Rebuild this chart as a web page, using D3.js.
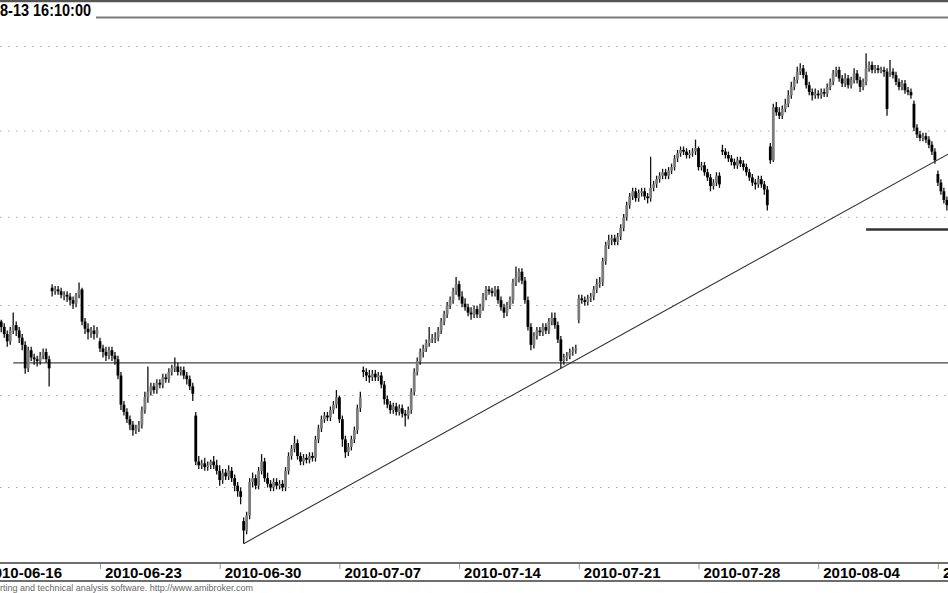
<!DOCTYPE html>
<html>
<head>
<meta charset="utf-8">
<script src="https://cdn.jsdelivr.net/npm/d3@7"></script>
<style>
	body { margin: 0; background: #fff; }
	svg { display: block; }
	text { font-family: "Liberation Sans", Arial, sans-serif; }
</style>
</head>
<body>
<div id="chart"></div>
<script>

// trading days, one row per day (hourly bars)
var days = ['2010-06-16','2010-06-17','2010-06-18','2010-06-21','2010-06-22','2010-06-23','2010-06-24','2010-06-25',
	'2010-06-28','2010-06-29','2010-06-30','2010-07-01','2010-07-02','2010-07-05','2010-07-06','2010-07-07',
	'2010-07-08','2010-07-09','2010-07-12','2010-07-13','2010-07-14','2010-07-15','2010-07-16','2010-07-19',
	'2010-07-20','2010-07-21','2010-07-22','2010-07-23','2010-07-26','2010-07-27','2010-07-28','2010-07-29',
	'2010-07-30','2010-08-02','2010-08-03','2010-08-04','2010-08-05','2010-08-06','2010-08-09','2010-08-10',
	'2010-08-11'];

var dayOpens = [2331, 2338, 2315, 2360, 2351, 2330, 2295, 2299, 2313, 2289, 2259, 2232, 2255, 2267, 2266, 2299,
	2314, 2298, 2292, 2332, 2362, 2349, 2346, 2338, 2343, 2342, 2363, 2400, 2411, 2429, 2440, 2439,
	2429, 2441, 2476, 2472, 2481, 2479, 2485, 2466, 2425];

var closes = [
	[2334, 2336, 2338, 2339, 2341, 2342, 2341, 2338],
	[2334, 2330, 2336, 2339, 2336, 2332, 2328, 2315],
	[2325, 2321, 2320, 2319, 2322, 2324, 2320, 2315],
	[2358, 2359, 2358, 2356, 2356, 2355, 2353, 2351],
	[2356, 2359, 2341, 2337, 2335, 2336, 2334, 2336],
	[2326, 2324, 2322, 2325, 2322, 2320, 2311, 2295],
	[2291, 2287, 2284, 2281, 2282, 2284, 2292, 2299],
	[2302, 2305, 2303, 2307, 2306, 2310, 2309, 2313],
	[2315, 2316, 2313, 2314, 2311, 2309, 2305, 2301],
	[2264, 2262, 2263, 2261, 2262, 2264, 2262, 2259],
	[2254, 2258, 2256, 2259, 2255, 2251, 2248, 2245],
	[2227, 2235, 2253, 2255, 2251, 2259, 2264, 2255],
	[2252, 2250, 2253, 2251, 2252, 2250, 2259, 2267],
	[2271, 2274, 2267, 2264, 2266, 2265, 2267, 2266],
	[2276, 2282, 2287, 2289, 2288, 2292, 2295, 2299],
	[2287, 2276, 2269, 2272, 2276, 2281, 2293, 2299],
	[2313, 2311, 2310, 2312, 2310, 2311, 2306, 2298],
	[2295, 2292, 2294, 2291, 2293, 2290, 2289, 2292],
	[2302, 2313, 2319, 2324, 2326, 2329, 2331, 2332],
	[2332, 2336, 2341, 2345, 2350, 2353, 2358, 2362],
	[2355, 2351, 2349, 2346, 2345, 2348, 2345, 2349],
	[2355, 2359, 2358, 2357, 2359, 2353, 2349, 2346],
	[2350, 2353, 2363, 2366, 2369, 2364, 2353, 2338],
	[2328, 2333, 2336, 2335, 2338, 2336, 2341, 2343],
	[2339, 2331, 2319, 2321, 2322, 2324, 2325, 2326],
	[2354, 2353, 2352, 2354, 2355, 2359, 2362, 2363],
	[2375, 2384, 2387, 2388, 2386, 2389, 2394, 2400],
	[2407, 2412, 2415, 2411, 2414, 2415, 2412, 2411],
	[2417, 2419, 2422, 2424, 2426, 2424, 2427, 2429],
	[2434, 2437, 2439, 2438, 2436, 2437, 2438, 2440],
	[2429, 2430, 2426, 2423, 2418, 2420, 2424, 2419],
	[2438, 2436, 2434, 2432, 2430, 2433, 2431, 2429],
	[2426, 2423, 2420, 2419, 2422, 2419, 2416, 2407],
	[2433, 2464, 2461, 2459, 2463, 2466, 2471, 2476],
	[2480, 2485, 2487, 2483, 2477, 2473, 2471, 2472],
	[2471, 2473, 2472, 2476, 2479, 2484, 2486, 2481],
	[2478, 2481, 2477, 2480, 2484, 2480, 2476, 2479],
	[2487, 2489, 2486, 2487, 2486, 2486, 2485, 2463],
	[2485, 2483, 2479, 2476, 2478, 2474, 2473, 2471],
	[2452, 2448, 2446, 2447, 2445, 2442, 2438, 2433],
	[2420, 2415, 2410, 2407]
];

var highs = [
	[2336, 2338, 2340, 2341, 2343, 2345, 2344, 2342],
	[2340, 2336, 2338, 2346, 2341, 2338, 2334, 2330],
	[2327, 2327, 2323, 2322, 2324, 2326, 2326, 2322],
	[2362, 2361, 2361, 2360, 2358, 2358, 2357, 2355],
	[2357, 2363, 2360, 2343, 2340, 2338, 2339, 2338],
	[2332, 2328, 2327, 2327, 2327, 2324, 2322, 2313],
	[2297, 2293, 2289, 2286, 2284, 2286, 2294, 2302],
	[2316, 2307, 2307, 2309, 2309, 2312, 2312, 2315],
	[2317, 2321, 2318, 2316, 2316, 2313, 2311, 2307],
	[2291, 2267, 2265, 2266, 2264, 2265, 2267, 2265],
	[2262, 2260, 2260, 2262, 2261, 2257, 2253, 2250],
	[2234, 2237, 2255, 2258, 2257, 2261, 2268, 2266],
	[2258, 2254, 2255, 2255, 2254, 2254, 2261, 2269],
	[2273, 2278, 2276, 2269, 2268, 2268, 2269, 2269],
	[2278, 2284, 2289, 2291, 2291, 2294, 2297, 2303],
	[2300, 2289, 2278, 2274, 2278, 2283, 2295, 2302],
	[2316, 2315, 2314, 2314, 2314, 2313, 2313, 2308],
	[2300, 2297, 2296, 2296, 2295, 2295, 2292, 2294],
	[2304, 2315, 2321, 2326, 2328, 2331, 2338, 2334],
	[2335, 2338, 2343, 2347, 2352, 2355, 2360, 2366],
	[2364, 2358, 2354, 2351, 2349, 2350, 2350, 2351],
	[2357, 2361, 2361, 2360, 2361, 2361, 2355, 2351],
	[2352, 2355, 2365, 2372, 2371, 2371, 2366, 2355],
	[2340, 2335, 2338, 2338, 2340, 2340, 2343, 2346],
	[2346, 2341, 2333, 2323, 2324, 2326, 2327, 2328],
	[2356, 2356, 2355, 2356, 2357, 2361, 2365, 2366],
	[2377, 2386, 2390, 2390, 2390, 2391, 2396, 2402],
	[2409, 2414, 2417, 2417, 2416, 2417, 2417, 2414],
	[2435, 2421, 2424, 2426, 2428, 2428, 2429, 2431],
	[2436, 2439, 2441, 2441, 2440, 2439, 2440, 2445],
	[2441, 2432, 2432, 2428, 2425, 2422, 2426, 2426],
	[2442, 2440, 2438, 2436, 2434, 2435, 2435, 2433],
	[2431, 2428, 2425, 2422, 2424, 2424, 2421, 2418],
	[2443, 2466, 2467, 2464, 2465, 2469, 2474, 2479],
	[2482, 2488, 2490, 2489, 2485, 2479, 2475, 2475],
	[2474, 2475, 2475, 2478, 2481, 2486, 2488, 2488],
	[2483, 2484, 2483, 2482, 2487, 2486, 2482, 2481],
	[2496, 2491, 2491, 2489, 2489, 2488, 2488, 2487],
	[2492, 2487, 2485, 2481, 2480, 2480, 2476, 2475],
	[2468, 2454, 2450, 2449, 2449, 2447, 2444, 2440],
	[2427, 2422, 2417, 2412]
];

var lows = [
	[2329, 2332, 2334, 2336, 2337, 2339, 2339, 2335],
	[2332, 2327, 2328, 2334, 2333, 2329, 2325, 2312],
	[2313, 2319, 2317, 2316, 2317, 2320, 2318, 2305],
	[2355, 2356, 2356, 2354, 2353, 2352, 2350, 2348],
	[2349, 2354, 2339, 2334, 2331, 2332, 2331, 2332],
	[2324, 2321, 2319, 2320, 2319, 2317, 2309, 2292],
	[2289, 2285, 2281, 2278, 2279, 2280, 2282, 2290],
	[2296, 2300, 2301, 2301, 2304, 2304, 2307, 2307],
	[2311, 2313, 2311, 2311, 2309, 2306, 2303, 2297],
	[2262, 2260, 2260, 2259, 2259, 2260, 2260, 2257],
	[2251, 2252, 2254, 2254, 2253, 2248, 2245, 2241],
	[2220, 2225, 2233, 2250, 2249, 2249, 2257, 2253],
	[2250, 2248, 2248, 2249, 2249, 2248, 2248, 2257],
	[2265, 2269, 2265, 2262, 2262, 2263, 2263, 2264],
	[2264, 2274, 2280, 2285, 2286, 2286, 2290, 2293],
	[2285, 2272, 2266, 2267, 2270, 2274, 2279, 2291],
	[2310, 2308, 2307, 2308, 2308, 2308, 2304, 2295],
	[2293, 2290, 2290, 2289, 2289, 2288, 2283, 2287],
	[2290, 2300, 2311, 2317, 2321, 2324, 2327, 2329],
	[2329, 2330, 2334, 2339, 2343, 2348, 2351, 2356],
	[2353, 2349, 2347, 2344, 2342, 2343, 2343, 2343],
	[2347, 2353, 2356, 2355, 2355, 2351, 2347, 2343],
	[2344, 2348, 2351, 2361, 2363, 2362, 2351, 2336],
	[2325, 2326, 2331, 2333, 2333, 2334, 2334, 2339],
	[2337, 2329, 2315, 2317, 2319, 2320, 2322, 2323],
	[2340, 2351, 2350, 2350, 2352, 2353, 2357, 2360],
	[2361, 2373, 2382, 2384, 2384, 2384, 2387, 2392],
	[2398, 2405, 2410, 2409, 2409, 2412, 2410, 2408],
	[2409, 2415, 2417, 2420, 2422, 2422, 2422, 2425],
	[2427, 2432, 2435, 2436, 2434, 2434, 2435, 2436],
	[2427, 2427, 2424, 2421, 2415, 2416, 2418, 2417],
	[2436, 2434, 2432, 2430, 2428, 2428, 2429, 2427],
	[2424, 2421, 2418, 2416, 2417, 2417, 2413, 2404],
	[2431, 2432, 2459, 2457, 2457, 2461, 2464, 2469],
	[2474, 2478, 2483, 2481, 2475, 2471, 2468, 2469],
	[2469, 2469, 2470, 2470, 2474, 2477, 2482, 2479],
	[2476, 2476, 2475, 2475, 2478, 2478, 2473, 2474],
	[2477, 2485, 2484, 2484, 2484, 2484, 2482, 2459],
	[2482, 2481, 2477, 2474, 2474, 2472, 2471, 2469],
	[2450, 2446, 2444, 2444, 2443, 2440, 2436, 2431],
	[2418, 2413, 2408, 2404]
];

var gridLevels = [2250, 2300, 2350, 2400, 2450, 2500];
var supportLevel = { from: 11, value: 2318 };
var resistanceStub = { from: 296, value: 2393 };
var trendPoints = [[88, 2220], [194, 2315]];

var tickDates = ['2010-06-16','2010-06-23','2010-06-30','2010-07-07','2010-07-14','2010-07-21','2010-07-28','2010-08-04','2010-08-11'];

var titleText = '8-13 16:10:00';
var footerText = 'rting and technical analysis software. http://www.amibroker.com';

(function () {
	var width = 948, height = 593;
	var perDay = closes[0].length;
	var nBars = days.length * perDay;

	var x = d3.scaleLinear().domain([0, nBars]).range([-19.7, -19.7 + nBars * 2.9925]);
	var y = d3.scaleLog().domain([2250, 2500]).range([487.5, 46.5]);

	var svg = d3.select('#chart').append('svg')
		.attr('width', width)
		.attr('height', height);

	// candles: open of each bar is the previous close
	var candles = [];
	closes.forEach(function (day, d) {
		var prev = dayOpens[d];
		day.forEach(function (c, j) {
			candles.push({ i: d * perDay + j, o: prev, c: c, h: highs[d][j], l: lows[d][j] });
			prev = c;
		});
	});

	// header lines and title
	svg.append('line').attr('x1', 0).attr('x2', width).attr('y1', 1).attr('y2', 1)
		.attr('stroke', '#555').attr('stroke-width', 2.5);
	svg.append('line').attr('x1', 96).attr('x2', width).attr('y1', 17.5).attr('y2', 17.5)
		.attr('stroke', '#7a7a7a').attr('stroke-width', 1.8);
	svg.append('text').attr('x', 0).attr('y', 16)
		.attr('font-size', 16).attr('font-weight', 'bold')
		.attr('textLength', 91).attr('lengthAdjust', 'spacingAndGlyphs')
		.text(titleText);

	// dotted grid
	svg.append('g').selectAll('line').data(gridLevels).enter().append('line')
		.attr('x1', 0).attr('x2', width)
		.attr('y1', function (d) { return y(d); })
		.attr('y2', function (d) { return y(d); })
		.attr('stroke', '#a8a8a8').attr('stroke-width', 1)
		.attr('stroke-dasharray', '1.5,6.5');

	// horizontal level
	svg.append('line')
		.attr('x1', x(supportLevel.from)).attr('x2', width)
		.attr('y1', y(supportLevel.value)).attr('y2', y(supportLevel.value))
		.attr('stroke', '#444').attr('stroke-width', 1.2);

	// candles
	var g = svg.append('g');
	g.selectAll('line.wick').data(candles).enter().append('line')
		.attr('class', 'wick')
		.attr('x1', function (d) { return x(d.i); })
		.attr('x2', function (d) { return x(d.i); })
		.attr('y1', function (d) { return y(d.h); })
		.attr('y2', function (d) { return y(d.l); })
		.attr('stroke', '#111').attr('stroke-width', 1.3);

	g.selectAll('rect').data(candles).enter().append('rect')
		.attr('x', function (d) { return x(d.i) - 1.4; })
		.attr('width', 2.8)
		.attr('y', function (d) { return y(Math.max(d.o, d.c)); })
		.attr('height', function (d) { return Math.max(1.5, Math.abs(y(d.o) - y(d.c))); })
		.attr('fill', function (d) { return d.c >= d.o ? '#7c7c7c' : '#000'; });

	// trendline, extended to the right edge
	var p0 = [x(trendPoints[0][0]), y(trendPoints[0][1])];
	var p1 = [x(trendPoints[1][0]), y(trendPoints[1][1])];
	var slope = (p1[1] - p0[1]) / (p1[0] - p0[0]);
	svg.append('line')
		.attr('x1', p0[0]).attr('y1', p0[1])
		.attr('x2', width).attr('y2', p0[1] + slope * (width - p0[0]))
		.attr('stroke', '#333').attr('stroke-width', 1.1);

	// short thick level on the right
	svg.append('line')
		.attr('x1', x(resistanceStub.from)).attr('x2', width)
		.attr('y1', y(resistanceStub.value)).attr('y2', y(resistanceStub.value))
		.attr('stroke', '#333').attr('stroke-width', 2.5);

	// date axis
	var dayIndex = {};
	days.forEach(function (d, i) { dayIndex[d] = i * perDay; });

	var axisTop = 563, axisBottom = 581;
	svg.append('line').attr('x1', 0).attr('x2', width).attr('y1', axisTop).attr('y2', axisTop)
		.attr('stroke', '#6e6e6e').attr('stroke-width', 1.8);
	svg.append('line').attr('x1', 0).attr('x2', width).attr('y1', axisBottom).attr('y2', axisBottom)
		.attr('stroke', '#6e6e6e').attr('stroke-width', 1.8);

	var xAxis = d3.axisBottom(x)
		.tickValues(tickDates.map(function (d) { return dayIndex[d]; }))
		.tickFormat(function (v) { return days[v / perDay]; })
		.tickSize(6)
		.tickSizeOuter(0);

	var ax = svg.append('g').attr('transform', 'translate(0,' + axisTop + ')').call(xAxis);
	ax.select('.domain').remove();
	ax.selectAll('.tick line').attr('stroke', '#999').attr('y1', 1);
	ax.selectAll('.tick text')
		.attr('text-anchor', 'start')
		.attr('x', 4.5).attr('y', 15).attr('dy', 0)
		.attr('fill', '#000')
		.attr('font-family', '"Liberation Sans", Arial, sans-serif')
		.attr('font-size', 15).attr('font-weight', 'bold');

	// footer
	svg.append('text').attr('x', 0).attr('y', 591)
		.attr('font-size', 8.5).attr('fill', '#666')
		.attr('textLength', 253).attr('lengthAdjust', 'spacingAndGlyphs')
		.text(footerText);
})();
</script>
</body>
</html>
